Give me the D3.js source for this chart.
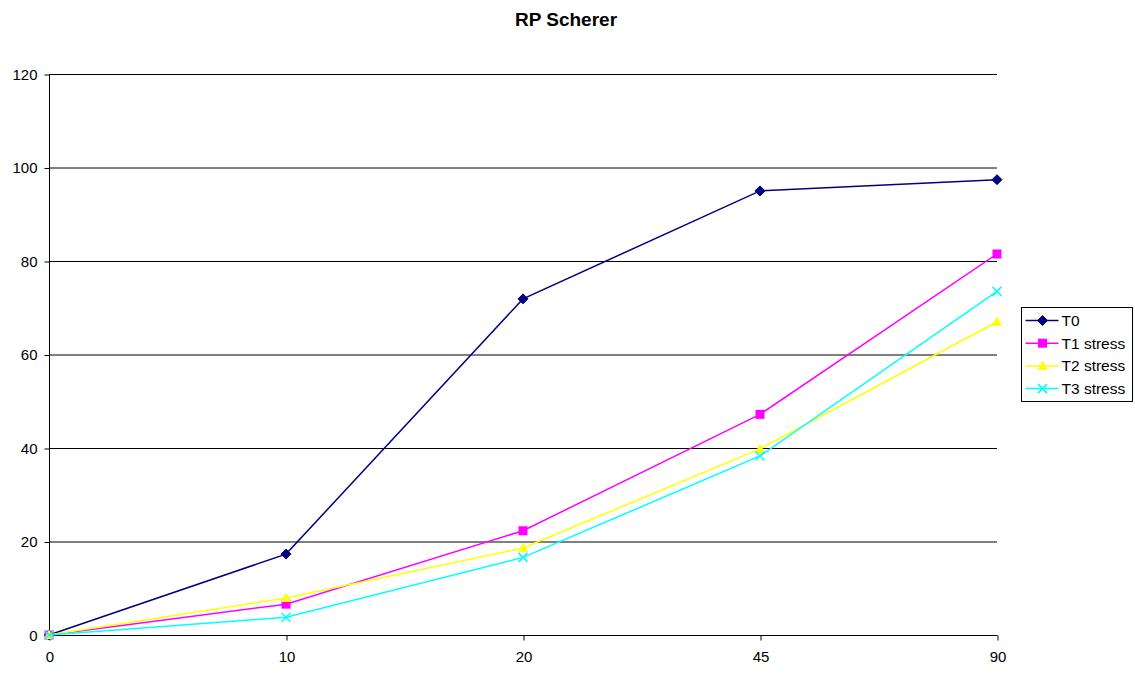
<!DOCTYPE html>
<html>
<head>
<meta charset="utf-8">
<script src="https://cdn.jsdelivr.net/npm/d3@7"></script>
<style>
  body { margin: 0; background: #fff; }
  text { font-family: "Liberation Sans", Arial, sans-serif; }
</style>
</head>
<body>
<svg id="chart" width="1135" height="677"></svg>
<script>
const categories = ["0", "10", "20", "45", "90"];
const seriesNames = ["T0", "T1 stress", "T2 stress", "T3 stress"];
const t0 = [0, 17.3, 71.9, 95.0, 97.4];
const t1 = [0, 6.6, 22.3, 47.2, 81.5];
const t2 = [0, 7.9, 18.6, 39.8, 67.0];
const t3 = [0, 3.8, 16.6, 38.3, 73.5];
const yTicks = [0, 20, 40, 60, 80, 100, 120];

const colors = ["#000080", "#ff00ff", "#ffff00", "#00ffff"];
const symbols = ["diamond", "square", "triangle", "cross"];
const series = [t0, t1, t2, t3].map((v, i) => ({ name: seriesNames[i], values: v, color: colors[i], symbol: symbols[i] }));

const svg = d3.select("#chart");
const plotLeft = 49, plotRight = 997, plotTop = 74, plotBottom = 635;

const x = d3.scalePoint().domain(categories).range([plotLeft, plotRight]);
const y = d3.scaleLinear().domain([0, 120]).range([plotBottom, plotTop]);

// Title
svg.append("text").attr("x", 566).attr("y", 26).attr("text-anchor", "middle")
  .attr("font-size", 19).attr("font-weight", "bold").text("RP Scherer");

// Horizontal gridlines
svg.append("g").selectAll("line").data(yTicks.filter(d => d > 0)).join("line")
  .attr("x1", plotLeft).attr("x2", plotRight)
  .attr("y1", d => y(d) + 0.5).attr("y2", d => y(d) + 0.5)
  .attr("stroke", "#000").attr("stroke-width", 1);

// Axes
const yAxis = svg.append("g").attr("transform", `translate(${plotLeft + 0.5},0.5)`)
  .call(d3.axisLeft(y).tickValues(yTicks).tickSize(5).tickPadding(7));
const xAxis = svg.append("g").attr("transform", `translate(0.5,${plotBottom + 0.5})`)
  .call(d3.axisBottom(x).tickSize(5).tickPadding(11));
[yAxis, xAxis].forEach(g => {
  g.attr("font-size", 15).attr("font-family", "'Liberation Sans', Arial, sans-serif");
  g.select(".domain").attr("stroke", "#000");
  g.selectAll(".tick line").attr("stroke", "#000");
  g.selectAll(".tick text").attr("fill", "#000");
});
yAxis.select(".domain").attr("d", `M0,${y(120)}V${y(0)}`);
xAxis.select(".domain").attr("d", `M${plotLeft},0H${plotRight}`);

// Marker drawing
function drawMarker(g, sym, color) {
  if (sym === "diamond") {
    g.append("path").attr("d", "M0,-5L5,0L0,5L-5,0Z").attr("fill", color).attr("stroke", color);
  } else if (sym === "square") {
    g.append("rect").attr("x", -4.5).attr("y", -4.5).attr("width", 9).attr("height", 9).attr("fill", color);
  } else if (sym === "triangle") {
    g.append("path").attr("d", "M0,-5.5L5,4L-5,4Z").attr("fill", color);
  } else {
    g.append("path").attr("d", "M-4.5,-4.5L4.5,4.5M-4.5,4.5L4.5,-4.5").attr("stroke", color).attr("stroke-width", 1.5).attr("fill", "none");
  }
}

const line = d3.line().x((d, i) => x(categories[i])).y(d => y(d));

series.forEach(s => {
  const g = svg.append("g");
  g.append("path").datum(s.values).attr("d", line)
    .attr("fill", "none").attr("stroke", s.color).attr("stroke-width", 1.5);
  s.values.forEach((v, i) => {
    const m = g.append("g").attr("transform", `translate(${x(categories[i])},${y(v)})`);
    drawMarker(m, s.symbol, s.color);
  });
});

// Legend
const lg = svg.append("g").attr("transform", "translate(1021.5,307.5)");
lg.append("rect").attr("width", 111).attr("height", 94).attr("fill", "#fff").attr("stroke", "#000");
series.forEach((s, i) => {
  const row = lg.append("g").attr("transform", `translate(0,${13 + i * 22.7})`);
  row.append("line").attr("x1", 4).attr("x2", 37).attr("stroke", s.color).attr("stroke-width", 1.5);
  const m = row.append("g").attr("transform", "translate(21,0)");
  drawMarker(m, s.symbol, s.color);
  row.append("text").attr("x", 40).attr("y", 5.5).attr("font-size", 15.5).text(s.name);
});
</script>
</body>
</html>
